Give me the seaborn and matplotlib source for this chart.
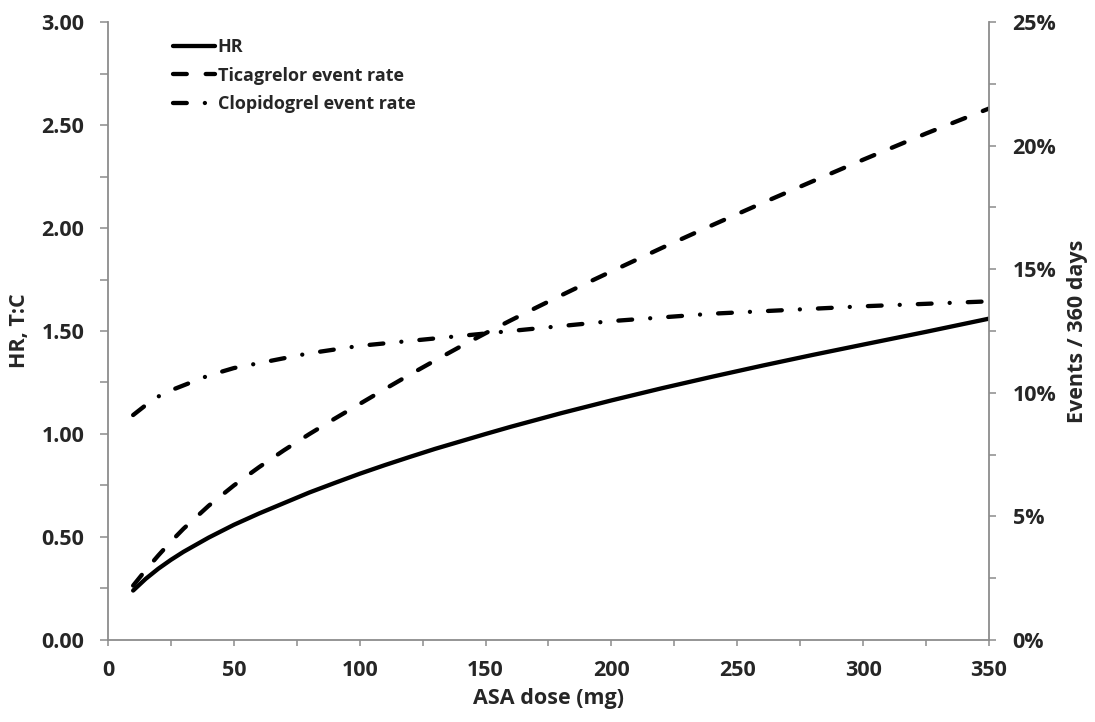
import matplotlib
matplotlib.use("Agg")
import matplotlib.pyplot as plt
from matplotlib.ticker import MultipleLocator, FuncFormatter
import seaborn as sns
import pandas as pd

# ASA dose (mg)
dose = [10, 15, 20, 25, 30, 40, 50, 60, 70, 80, 90, 100, 110, 120, 130, 140,
        150, 160, 170, 180, 190, 200, 220, 240, 260, 280, 300, 325, 350]
# Hazard ratio, ticagrelor : clopidogrel (left axis)
hr = [0.240, 0.297, 0.346, 0.389, 0.428, 0.497, 0.559, 0.614, 0.665, 0.716,
      0.762, 0.807, 0.849, 0.889, 0.928, 0.964, 1.000, 1.035, 1.068, 1.101,
      1.132, 1.163, 1.222, 1.278, 1.332, 1.384, 1.434, 1.496, 1.560]
# Event rates per 360 days, % (right axis)
ticagrelor_rate = [2.2, 2.83, 3.42, 3.98, 4.5, 5.43, 6.25, 6.99, 7.68, 8.33,
                   8.95, 9.55, 10.15, 10.74, 11.31, 11.87, 12.41, 12.93, 13.44,
                   13.94, 14.43, 14.91, 15.86, 16.78, 17.68, 18.56, 19.43,
                   20.49, 21.5]
clopidogrel_rate = [9.1, 9.5, 9.85, 10.1, 10.3, 10.7, 11.0, 11.2, 11.4, 11.6,
                    11.75, 11.9, 12.0, 12.1, 12.2, 12.3, 12.4, 12.5, 12.6,
                    12.7, 12.8, 12.9, 13.05, 13.2, 13.3, 13.4, 13.5, 13.6,
                    13.7]

series_labels = ["HR", "Ticagrelor event rate", "Clopidogrel event rate"]

df = pd.DataFrame({"dose": dose, "hr": hr,
                   "tica": ticagrelor_rate, "clopi": clopidogrel_rate})

sns.set_style("white")
plt.rcParams["font.family"] = ["Open Sans", "DejaVu Sans"]
plt.rcParams["font.weight"] = "bold"

FS = 15.5
LEG_FS = 13
AXIS_GREY = "#8c8c8c"

fig = plt.figure(figsize=(10.95, 7.22), dpi=100)
ax = fig.add_axes([0.0986, 0.1136, 0.9032 - 0.0986, 0.9695 - 0.1136])
ax2 = ax.twinx()

lw = 3.1
sns.lineplot(data=df, x="dose", y="hr", ax=ax, color="black", lw=lw,
             label=series_labels[0], legend=False)
sns.lineplot(data=df, x="dose", y="tica", ax=ax2, color="black", lw=lw,
             label=series_labels[1], legend=False)
sns.lineplot(data=df, x="dose", y="clopi", ax=ax2, color="black", lw=lw,
             label=series_labels[2], legend=False)

l_hr = ax.lines[0]
l_hr.set_solid_joinstyle("round")
l_hr.set_solid_capstyle("round")
l_tica = ax2.lines[0]
l_clopi = ax2.lines[1]
l_tica.set_dashes((3.2, 4.4))
l_tica.set_dash_capstyle("round")
l_clopi.set_dashes((3.2, 4.2, 0.01, 4.2))
l_clopi.set_dash_capstyle("round")

ax.set_xlim(0, 350)
ax.set_ylim(0, 3)
ax2.set_ylim(0, 25)

ax.xaxis.set_major_locator(MultipleLocator(50))
ax.xaxis.set_minor_locator(MultipleLocator(25))
ax.yaxis.set_major_locator(MultipleLocator(0.5))
ax.yaxis.set_minor_locator(MultipleLocator(0.25))
ax.yaxis.set_major_formatter(FuncFormatter(lambda v, p: f"{v:.2f}"))
ax2.yaxis.set_major_locator(MultipleLocator(5))
ax2.yaxis.set_minor_locator(MultipleLocator(2.5))
ax2.yaxis.set_major_formatter(FuncFormatter(lambda v, p: f"{v:.0f}%"))

for a in (ax, ax2):
    for side, sp in a.spines.items():
        sp.set_color(AXIS_GREY)
        sp.set_linewidth(1.3)
    a.spines["top"].set_visible(False)
ax.spines["right"].set_visible(False)
ax2.spines["left"].set_visible(False)
ax2.spines["bottom"].set_visible(False)

ax.tick_params(axis="x", which="both", direction="out", length=4.5, width=1.1,
               color=AXIS_GREY, labelsize=FS, pad=10, bottom=True)
ax.tick_params(axis="y", which="both", direction="out", length=6, width=1.1,
               color=AXIS_GREY, labelsize=FS, pad=11, left=True)
ax2.tick_params(axis="y", which="both", direction="out", length=5, width=1.1,
                color=AXIS_GREY, labelsize=FS, pad=12, right=True)
for lab in ax.get_xticklabels() + ax.get_yticklabels() + ax2.get_yticklabels():
    lab.set_fontweight("bold")

ax.set_xlabel("ASA dose (mg)", fontsize=FS, fontweight="bold", labelpad=5)
ax.set_ylabel("HR, T:C", fontsize=FS, fontweight="bold", labelpad=8)
ax2.set_ylabel("Events / 360 days", fontsize=FS, fontweight="bold", labelpad=8)

handles = ax.lines[:1] + ax2.lines[:2]
leg = ax.legend(handles, series_labels, loc="upper left",
                bbox_to_anchor=(0.055, 1.0), frameon=False,
                handlelength=2.35, handletextpad=0.15, labelspacing=0.58,
                prop={"weight": "bold", "size": LEG_FS})

fig.savefig("out.png", dpi=100)
